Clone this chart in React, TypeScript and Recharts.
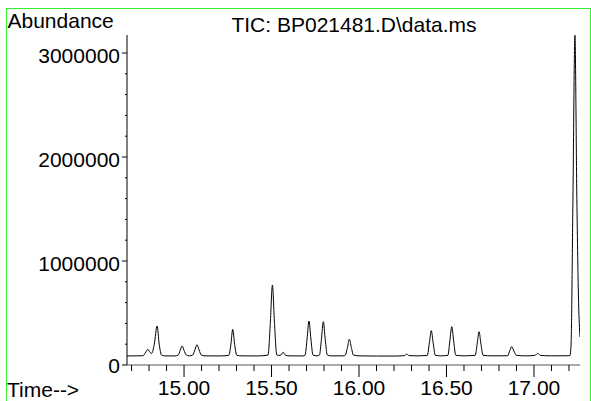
import React from 'react';
import { LineChart, Line, XAxis, YAxis } from 'recharts';

// retention time (min) and abundance
const times = [
  14.674, 14.72, 14.765, 14.782, 14.793, 14.805, 14.815, 14.83, 14.846, 14.858, 14.872, 14.89,
  14.95, 14.967, 14.978, 14.989, 15.0, 15.012, 15.03,
  15.05, 15.063, 15.074, 15.086, 15.098, 15.12, 15.2,
  15.255, 15.268, 15.278, 15.289, 15.302, 15.33, 15.42,
  15.48, 15.493, 15.505, 15.517, 15.53, 15.55, 15.567, 15.58, 15.6, 15.68,
  15.692, 15.703, 15.714, 15.725, 15.737, 15.76,
  15.774, 15.785, 15.796, 15.807, 15.819, 15.84, 15.91,
  15.922, 15.934, 15.945, 15.956, 15.968, 16.0, 16.1, 16.2,
  16.26, 16.273, 16.286, 16.33,
  16.39, 16.402, 16.413, 16.424, 16.436, 16.47,
  16.508, 16.519, 16.53, 16.541, 16.553, 16.6,
  16.664, 16.675, 16.686, 16.697, 16.709, 16.76,
  16.85, 16.862, 16.873, 16.885, 16.9, 16.95,
  17.005, 17.021, 17.037, 17.1,
  17.195, 17.205, 17.212, 17.222, 17.234, 17.245, 17.255, 17.263,
];

const abundance = [
  87000, 88000, 89000, 125000, 151000, 122000, 112000, 200000, 375000, 200000, 95000, 88000,
  87000, 96000, 140000, 183000, 140000, 98000, 88000,
  96000, 150000, 195000, 145000, 97000, 88000, 87000,
  92000, 200000, 343000, 200000, 93000, 88000, 87000,
  95000, 400000, 769000, 400000, 97000, 92000, 122000, 93000, 88000, 87000,
  95000, 250000, 423000, 250000, 96000, 88000,
  95000, 245000, 416000, 245000, 96000, 88000, 88000,
  96000, 170000, 247000, 170000, 96000, 88000, 86000, 86000,
  90000, 106000, 90000, 88000,
  92000, 210000, 330000, 210000, 93000, 88000,
  93000, 230000, 368000, 230000, 94000, 88000,
  93000, 200000, 320000, 200000, 93000, 88000,
  89000, 140000, 176000, 135000, 93000, 88000,
  92000, 112000, 92000, 88000,
  89000, 90000, 200000, 1500000, 3170000, 1600000, 600000, 269000,
];

const xMajorTicks = [15, 15.5, 16, 16.5, 17];
const xMinorTicks = [
  14.7, 14.8, 14.9, 15.1, 15.2, 15.3, 15.4, 15.6, 15.7, 15.8, 15.9,
  16.1, 16.2, 16.3, 16.4, 16.6, 16.7, 16.8, 16.9, 17.1, 17.2,
];
const yMajorTicks = [0, 1000000, 2000000, 3000000];
const yMinorTicks = [
  200000, 400000, 600000, 800000, 1200000, 1400000, 1600000, 1800000,
  2200000, 2400000, 2600000, 2800000,
];

const title = 'TIC: BP021481.D\\data.ms';
const yLabel = 'Abundance';
const xLabel = 'Time-->';

const data = times.map((t, i) => ({ t, v: abundance[i] }));

const FONT = '"Liberation Sans", Arial, sans-serif';
const isIn = (list: number[], v: number) => list.some((m) => Math.abs(m - v) < 1e-6);

const XTick = (props: any) => {
  const { x, y, payload } = props;
  const major = isIn(xMajorTicks, payload.value);
  return (
    <g>
      <line x1={x} x2={x} y1={y} y2={y + (major ? 12 : 6)} stroke="#000" />
      {major && (
        <text x={x} y={y + 30} textAnchor="middle" fontSize={21} fontFamily={FONT} fill="#000">
          {payload.value.toFixed(2)}
        </text>
      )}
    </g>
  );
};

const YTick = (props: any) => {
  const { x, y, payload } = props;
  const major = isIn(yMajorTicks, payload.value);
  return (
    <g>
      <line x1={x - (major ? 5 : 2)} x2={x} y1={y} y2={y} stroke="#000" />
      {major && (
        <text
          x={x - 7}
          y={y + (payload.value === 0 ? 8 : 10)}
          textAnchor="end"
          fontSize={21}
          fontFamily={FONT}
          fill="#000"
        >
          {payload.value}
        </text>
      )}
    </g>
  );
};

export default function App() {
  const xTicks = [...xMajorTicks, ...xMinorTicks].sort((a, b) => a - b);
  const yTicks = [...yMajorTicks, ...yMinorTicks].sort((a, b) => a - b);
  return (
    <div style={{ position: 'absolute', left: 0, top: 0, width: 591, height: 401, background: '#fff' }}>
      <div style={{ position: 'absolute', left: 0, top: 0 }}>
        <LineChart width={591} height={401} data={data} margin={{ top: 35, right: 11, bottom: 0, left: 0 }}>
          <XAxis
            dataKey="t"
            type="number"
            domain={[14.674, 17.263]}
            allowDataOverflow
            ticks={xTicks}
            interval={0}
            height={36}
            tickSize={0}
            tickMargin={0}
            tickLine={false}
            axisLine={{ stroke: '#555' }}
            tick={XTick}
          />
          <YAxis
            type="number"
            domain={[0, 3173000]}
            allowDataOverflow
            ticks={yTicks}
            interval={0}
            width={127}
            tickSize={0}
            tickMargin={0}
            tickLine={false}
            axisLine={{ stroke: '#000' }}
            tick={YTick}
          />
          <Line
            type="monotone"
            dataKey="v"
            stroke="#000"
            strokeWidth={1}
            dot={false}
            isAnimationActive={false}
          />
        </LineChart>
      </div>
      <svg
        width={591}
        height={401}
        style={{ position: 'absolute', left: 0, top: 0, pointerEvents: 'none' }}
      >
        <line x1={6.5} x2={6.5} y1={8} y2={401} stroke="#33ee33" />
        <line x1={6} x2={591} y1={8.5} y2={8.5} stroke="#33ee33" />
        <line x1={590.5} x2={590.5} y1={8} y2={401} stroke="#33ee33" />
        <text x={7.5} y={28} fontSize={21} fontFamily={FONT} fill="#000">
          {yLabel}
        </text>
        <text x={354} y={31.5} textAnchor="middle" fontSize={21} fontFamily={FONT} fill="#000">
          {title}
        </text>
        <text x={7} y={396.5} fontSize={21} fontFamily={FONT} fill="#000">
          {xLabel}
        </text>
      </svg>
    </div>
  );
}
